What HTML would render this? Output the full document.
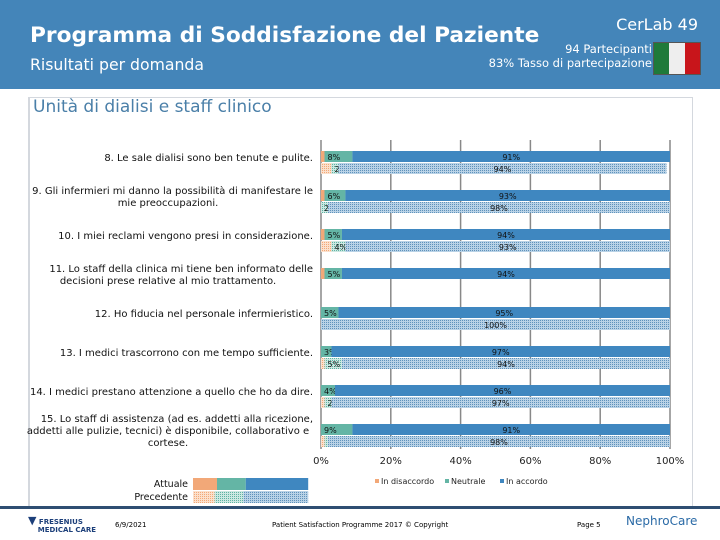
<!DOCTYPE html>
<html><head><meta charset="utf-8"><style>
body{margin:0;width:720px;height:540px;overflow:hidden;background:#fff;font-family:"DejaVu Sans","Liberation Sans",sans-serif;position:relative}
.abs{position:absolute}
</style></head><body>
<div class="abs" style="left:0;top:0;width:720px;height:89px;background:#4485b9"></div>
<div class="abs" style="left:30px;top:23px;font-size:21.7px;font-weight:bold;color:#fff;white-space:nowrap">Programma di Soddisfazione del Paziente</div>
<div class="abs" style="left:30px;top:55px;font-size:15.7px;color:#fff;white-space:nowrap">Risultati per domanda</div>
<div class="abs" style="right:22px;top:15px;font-size:16px;color:#fff;white-space:nowrap">CerLab 49</div>
<div class="abs" style="right:68px;top:42px;font-size:11.5px;color:#fff;white-space:nowrap;text-align:right;line-height:14px">94 Partecipanti<br>83% Tasso di partecipazione</div>
<div class="abs" style="left:653px;top:42px;width:46px;height:31px;display:flex;border:1px solid #555">
<div style="flex:1;background:#1f7a3a"></div><div style="flex:1;background:#eee"></div><div style="flex:1;background:#c8151b"></div></div>
<div class="abs" style="left:28px;top:97px;width:662px;height:408px;border:1px solid #d4d8de;border-left:2px solid #d4d8de"></div>
<div class="abs" style="left:33px;top:97px;font-size:17px;color:#4a7fa8;white-space:nowrap">Unità di dialisi e staff clinico</div>
<svg class="abs" style="left:0;top:0" width="720" height="540" id="chart">
<defs>
<pattern id="hd" width="2" height="2" patternUnits="userSpaceOnUse"><rect width="2" height="2" fill="#fbe0cc"/><rect width="1" height="1" fill="#f2a878"/></pattern>
<pattern id="hn" width="2" height="2" patternUnits="userSpaceOnUse"><rect width="2" height="2" fill="#cde8e2"/><rect width="1" height="1" fill="#5fb3a3"/></pattern>
<pattern id="ha" width="2" height="2" patternUnits="userSpaceOnUse"><rect width="2" height="2" fill="#b9d2e6"/><rect width="1" height="1" fill="#5f92bb"/></pattern>
</defs>
</svg>
<div class="abs" style="left:0;top:506px;width:720px;height:3px;background:#2e4e72"></div>
<div class="abs" style="left:28px;top:517px;font-size:7px;font-weight:bold;color:#1c3f7a;line-height:8px"><span style="font-size:11px">▼</span> FRESENIUS<br>&nbsp;&nbsp;&nbsp;&nbsp;MEDICAL CARE</div>
<div class="abs" style="left:115px;top:521px;font-size:7px">6/9/2021</div>
<div class="abs" style="left:272px;top:521px;font-size:7px">Patient Satisfaction Programme 2017 © Copyright</div>
<div class="abs" style="left:577px;top:521px;font-size:7px">Page 5</div>
<div class="abs" style="left:626px;top:514px;font-size:12px;color:#2a6aa6">NephroCare</div>
<script>
const questions=["8. Le sale dialisi sono ben tenute e pulite.","9. Gli infermieri mi danno la possibilità di manifestare le|mie preoccupazioni.","10. I miei reclami vengono presi in considerazione.","11. Lo staff della clinica mi tiene ben informato delle|decisioni prese relative al mio trattamento.","12. Ho fiducia nel personale infermieristico.","13. I medici trascorrono con me tempo sufficiente.","14. I medici prestano attenzione a quello che ho da dire.","15. Lo staff di assistenza (ad es. addetti alla ricezione,|addetti alle pulizie, tecnici) è disponibile, collaborativo e|cortese."];
const curDis=[1,1,1,1,0,0,0,0];
const curNeu=[8,6,5,5,5,3,4,9];
const curAgr=[91,93,94,94,95,97,96,91];
const prevDis=[3,0,3,null,0,1,1,1];
const prevNeu=[2,2,4,null,0,5,2,1];
const prevAgr=[94,98,93,null,100,94,97,98];
const ticks=[0,20,40,60,80,100];
const legendLabels=["In disaccordo","Neutrale","In accordo"];
const svg=document.getElementById('chart');const NS="http://www.w3.org/2000/svg";
const X0=321,X1=670,TOP=151,STEP=39,BH=12;
const xs=v=>X0+(X1-X0)*v/100;
function mk(t,a){const e=document.createElementNS(NS,t);for(const k in a)e.setAttribute(k,a[k]);svg.appendChild(e);return e;}
ticks.forEach(t=>{const g=mk('line',{x1:xs(t),x2:xs(t),y1:140,y2:449,stroke:'#888','stroke-width':1.5});


const l=mk('text',{x:xs(t),y:464,'font-size':10,'text-anchor':'middle',fill:'#222'});l.textContent=t+'%';

});
const cols=['#f2a878','#64b5a5','#3f87c0'],pats=['url(#hd)','url(#hn)','url(#ha)'];
questions.forEach((q,i)=>{const y=TOP+i*STEP;
const lines=q.split('|');const n=lines.length;
lines.forEach((ln,j)=>{const t=mk('text',{x:313,y:0,'font-size':10,fill:'#111'});
t.textContent=ln;


t.setAttribute('y',y+10+(j-(n-1)/2)*12);
if(n>1&&j>0){t.setAttribute('text-anchor','middle');t.setAttribute('x',168);}else{t.setAttribute('text-anchor','end');t.setAttribute('x',313);}
});
const sets=[[curDis[i],curNeu[i],curAgr[i],y,cols,'current'],[prevDis[i],prevNeu[i],prevAgr[i],y+BH,pats,'previous']];
sets.forEach(([d,nn,a,yy,fills,nm])=>{if(a===null)return;let acc=0;[d,nn,a].forEach((v,k)=>{
const r=mk('rect',{x:xs(acc),y:yy,width:Math.max(0,xs(acc+v)-xs(acc)),height:BH-1,fill:fills[k]});


if(v>0&&k>0){const tx=mk('text',{x:k==2?xs(acc+v/2):xs(acc)+3,y:yy+9,'font-size':8,fill:'#111','text-anchor':k==2?'middle':'start'});tx.textContent=v+'%';

}
acc+=v;});});
});
legendLabels.forEach((l,k)=>{const x=[375,445,500][k];
const r=mk('rect',{x:x,y:479,width:4,height:4,fill:cols[k]});


const t=mk('text',{x:x+6,y:484,'font-size':8,fill:'#222'});t.textContent=l;

});
[['Attuale',487,cols,[10,12,26]],['Precedente',500,pats,[9,12,27]]].forEach(([l,y,f,w])=>{
const t=mk('text',{x:188,y:y,'font-size':9.5,'text-anchor':'end',fill:'#111'});t.textContent=l;


let x=193;w.forEach((ww,k)=>{const r=mk('rect',{x:x,y:y-9,width:ww*2.4,height:12,fill:f[k]});

x+=ww*2.4;});});
</script>
</body></html>
